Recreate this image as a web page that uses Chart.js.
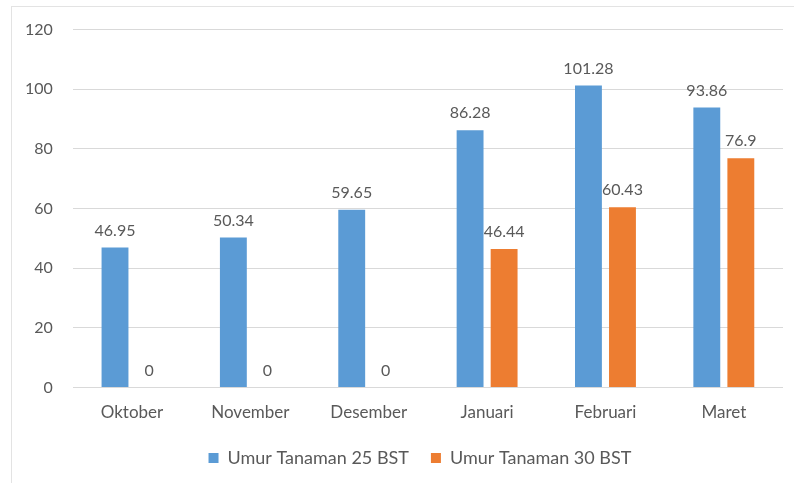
<!DOCTYPE html>
<html>
<head>
<meta charset="utf-8">
<script src="https://cdn.jsdelivr.net/npm/chart.js@4"></script>
<style>
  body { margin: 0; background: #fff; }
  #wrap { position: relative; width: 794px; height: 483px; overflow: hidden; }
  #frame { position: absolute; left: 11px; top: 6px; width: 800px; height: 500px; border: 1px solid #e3e3e3; }
  canvas { position: absolute; left: 0; top: 0; }
</style>
</head>
<body>
<div id="wrap">
  <div id="frame"></div>
  <canvas id="myChart" width="794" height="483"></canvas>
</div>
<script>
let months = ['Oktober', 'November', 'Desember', 'Januari', 'Februari', 'Maret'];
let umur25 = [46.95, 50.34, 59.65, 86.28, 101.28, 93.86];
let umur30 = [0, 0, 0, 46.44, 60.43, 76.9];

let textColor = '#595959';
let fontName = 'Lato, "Open Sans", sans-serif';

// draws value above each bar
let barLabels = {
    id: 'barLabels',
    afterDatasetsDraw(chart) {
        let ctx = chart.ctx;
        ctx.save();
        ctx.fillStyle = textColor;
        ctx.font = '16px ' + fontName;
        ctx.textAlign = 'center';
        ctx.textBaseline = 'bottom';
        chart.data.datasets.forEach((dataset, i) => {
            chart.getDatasetMeta(i).data.forEach((bar, j) => {
                ctx.fillText(String(dataset.data[j]), bar.x, bar.y - 9);
            });
        });
        ctx.restore();
    }
};

// legend sits centred under the plot, not the canvas
let legendShift = {
    id: 'legendShift',
    afterLayout(chart) {
        let lg = chart.legend;
        let dx = (chart.chartArea.left + chart.chartArea.right) / 2 - (lg.left + lg.right) / 2 - 8;
        lg.left += dx;
        lg.right += dx;
        lg.top -= 3;
        lg.bottom -= 3;
    }
};

let ctx = document.getElementById('myChart').getContext('2d');
let barChart = new Chart(ctx, {
    type: 'bar',
    data: {
        labels: months,
        datasets: [{
            label: 'Umur Tanaman 25 BST',
            data: umur25,
            backgroundColor: '#5B9BD5',
            barPercentage: 0.79,
            categoryPercentage: 0.575
        }, {
            label: 'Umur Tanaman 30 BST',
            data: umur30,
            backgroundColor: '#ED7D31',
            barPercentage: 0.79,
            categoryPercentage: 0.575
        }]
    },
    options: {
        responsive: false,
        animation: false,
        layout: {
            padding: { left: 5, right: 11, top: 20, bottom: 3 }
        },
        scales: {
            x: {
                grid: { display: false },
                border: { display: false },
                ticks: { color: textColor, font: { size: 17, family: fontName }, padding: 7 }
            },
            y: {
                min: 0,
                max: 120,
                ticks: { stepSize: 20, color: textColor, font: { size: 16, family: fontName }, padding: 20 },
                grid: { color: '#d9d9d9', drawTicks: false },
                border: { display: false }
            }
        },
        plugins: {
            legend: {
                position: 'bottom',
                labels: {
                    color: textColor,
                    font: { size: 18, family: fontName },
                    boxWidth: 10,
                    boxHeight: 10,
                    padding: 22
                }
            },
            tooltip: { enabled: false }
        }
    },
    plugins: [barLabels, legendShift]
});
</script>
</body>
</html>
